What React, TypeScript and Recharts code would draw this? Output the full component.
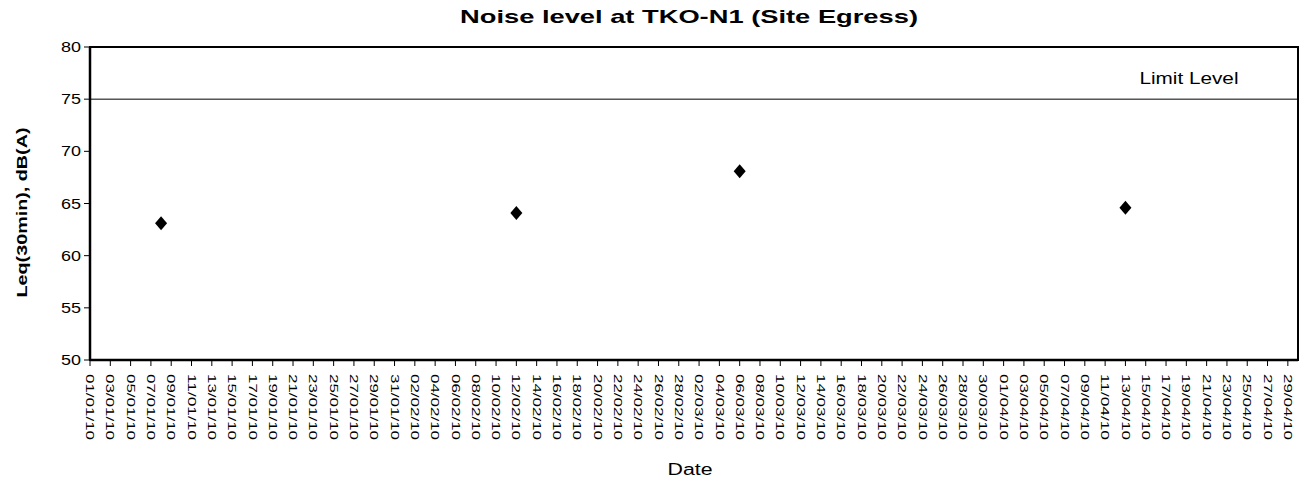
import React from 'react';
import {
  ScatterChart,
  Scatter,
  XAxis,
  YAxis,
  ReferenceLine,
  ReferenceArea,
} from 'recharts';

// tick labels on the date axis (every second day)
const dateTicks = [
  '01/01/10', '03/01/10', '05/01/10', '07/01/10', '09/01/10', '11/01/10', '13/01/10', '15/01/10',
  '17/01/10', '19/01/10', '21/01/10', '23/01/10', '25/01/10', '27/01/10', '29/01/10', '31/01/10',
  '02/02/10', '04/02/10', '06/02/10', '08/02/10', '10/02/10', '12/02/10', '14/02/10', '16/02/10',
  '18/02/10', '20/02/10', '22/02/10', '24/02/10', '26/02/10', '28/02/10',
  '02/03/10', '04/03/10', '06/03/10', '08/03/10', '10/03/10', '12/03/10', '14/03/10', '16/03/10',
  '18/03/10', '20/03/10', '22/03/10', '24/03/10', '26/03/10', '28/03/10', '30/03/10',
  '01/04/10', '03/04/10', '05/04/10', '07/04/10', '09/04/10', '11/04/10', '13/04/10', '15/04/10',
  '17/04/10', '19/04/10', '21/04/10', '23/04/10', '25/04/10', '27/04/10', '29/04/10',
];
const yTicks = [50, 55, 60, 65, 70, 75, 80];

// measured samples
const sampleDates = ['08/01/10', '12/02/10', '06/03/10', '13/04/10'];
const noiseLevels = [63.1, 64.1, 68.1, 64.6];

const limitLevel = 75;
const startDate = '01/01/10';
const endDate = '30/04/10';

const FONT = '"Liberation Sans", Arial, sans-serif';

const dayIndex = (s: string) => {
  const [d, m, y] = s.split('/').map(Number);
  const [d0, m0, y0] = startDate.split('/').map(Number);
  return Math.round((Date.UTC(2000 + y, m - 1, d) - Date.UTC(2000 + y0, m0 - 1, d0)) / 86400000);
};

const data = sampleDates.map((date, i) => ({ day: dayIndex(date), leq: noiseLevels[i] }));
const xTickValues = dateTicks.map(dayIndex);

const XTick = ({ x, y, payload }: any) => {
  const label = dateTicks[xTickValues.indexOf(payload.value)] ?? '';
  return (
    <g transform={`translate(${x},${y + 6})`}>
      <text
        transform="rotate(90)"
        textAnchor="start"
        dy="0.35em"
        fontSize={11}
        fontFamily={FONT}
        fill="#000"
        textLength={66}
        lengthAdjust="spacingAndGlyphs"
      >
        {label}
      </text>
    </g>
  );
};

const YTick = ({ x, y, payload }: any) => (
  <text
    x={x - 1}
    y={y}
    dy="0.36em"
    textAnchor="end"
    fontSize={14}
    fontFamily={FONT}
    fill="#000"
    textLength={20}
    lengthAdjust="spacingAndGlyphs"
  >
    {payload.value}
  </text>
);

const Diamond = ({ cx, cy }: any) => (
  <polygon
    points={`${cx},${cy - 7} ${cx + 6},${cy} ${cx},${cy + 7} ${cx - 6},${cy}`}
    fill="#000"
  />
);

const App: React.FC = () => {
  return (
    <div style={{ position: 'absolute', left: 0, top: 0, width: 1309, height: 485, background: '#fff' }}>
      <svg width={1309} height={40} style={{ position: 'absolute', left: 0, top: 0, zIndex: 1 }}>
        <text
          x={689}
          y={23}
          textAnchor="middle"
          fontSize={19}
          fontWeight="bold"
          fontFamily={FONT}
          fill="#000"
          textLength={458}
          lengthAdjust="spacingAndGlyphs"
        >
          Noise level at TKO-N1 (Site Egress)
        </text>
      </svg>
      <ScatterChart width={1309} height={485} margin={{ top: 47, right: 11, left: 0, bottom: 0 }}>
        <ReferenceArea
          x1={0}
          x2={dayIndex(endDate)}
          y1={yTicks[0]}
          y2={yTicks[yTicks.length - 1]}
          fill="none"
          stroke="#000"
          strokeWidth={2}
          fillOpacity={0}
        />
        <XAxis
          type="number"
          dataKey="day"
          domain={[0, dayIndex(endDate)]}
          ticks={xTickValues}
          interval={0}
          tick={<XTick />}
          tickSize={6}
          height={125}
          axisLine={{ stroke: '#000', strokeWidth: 2.5 }}
          tickLine={{ stroke: '#000' }}
          label={{
            content: ({ viewBox }: any) => (
              <text
                x={viewBox.x + viewBox.width / 2 - 4}
                y={viewBox.y + 115}
                textAnchor="middle"
                fontSize={16}
                fontFamily={FONT}
                fill="#000"
                textLength={45}
                lengthAdjust="spacingAndGlyphs"
              >
                Date
              </text>
            ),
          }}
        />
        <YAxis
          type="number"
          dataKey="leq"
          domain={[yTicks[0], yTicks[yTicks.length - 1]]}
          ticks={yTicks}
          interval={0}
          tick={<YTick />}
          tickSize={6}
          width={90}
          axisLine={{ stroke: '#000', strokeWidth: 2.5 }}
          tickLine={{ stroke: '#000' }}
          label={{
            content: ({ viewBox }: any) => (
              <text
                transform={`translate(${viewBox.x + 22},${viewBox.y + viewBox.height / 2 + 9}) rotate(-90)`}
                textAnchor="middle"
                dy="0.35em"
                fontSize={15}
                fontWeight="bold"
                fontFamily={FONT}
                fill="#000"
                textLength={170}
                lengthAdjust="spacingAndGlyphs"
              >
                Leq(30min), dB(A)
              </text>
            ),
          }}
        />
        <ReferenceLine
          y={limitLevel}
          stroke="#000"
          strokeWidth={1}
          label={{
            content: ({ viewBox }: any) => (
              <text
                x={viewBox.x + viewBox.width - 109}
                y={viewBox.y - 15}
                textAnchor="middle"
                fontSize={16}
                fontFamily={FONT}
                fill="#000"
                textLength={99}
                lengthAdjust="spacingAndGlyphs"
              >
                Limit Level
              </text>
            ),
          }}
        />
        <Scatter data={data} shape={<Diamond />} isAnimationActive={false} />
      </ScatterChart>
    </div>
  );
};

export default App;
